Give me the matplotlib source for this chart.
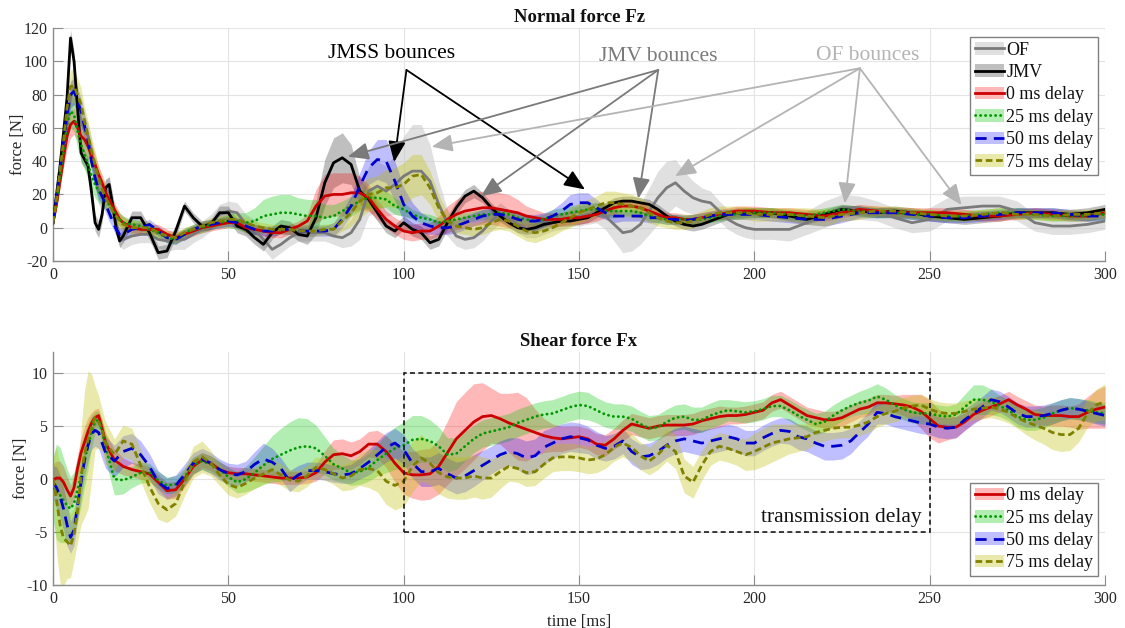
import numpy as np
import matplotlib
matplotlib.use("Agg")
import matplotlib.pyplot as plt
from matplotlib.patches import Patch, Rectangle
from matplotlib.lines import Line2D

plt.rcParams["font.family"] = ["Liberation Serif", "DejaVu Serif"]
plt.rcParams["axes.unicode_minus"] = False

# ---------------------------------------------------------------- time grids
t_normal = np.concatenate([np.arange(0, 20.5, 1.0),
                           np.arange(22.5, 200.1, 2.5),
                           np.arange(205, 300.1, 5.0)])
t_shear = np.concatenate([np.arange(0, 15.5, 1.0),
                          np.arange(17.5, 300.1, 2.5)])

# ------------------------------------------------------- normal force Fz [N]
fz_of = [3, 15, 30, 45, 62, 78, 84, 75, 64, 58, 55, 45, 33, 22, 18, 21, 22, 14, 3, -5, -7,
         -5, -4, -4, -7, -8, -7, -7, -4,
         -1, 3, 8, 10, 9, 2, -1, -7,
         -13, -10, -6, -3, -3, -3, -3, -5,
         -6, -3, 5, 22, 25, 22, 26, 31,
         34, 34, 28, 14, 3, -5, -7, -6,
         -2, 4, 9, 6, 2, -1, -1, 1,
         3, 4, 6, 7, 8, 9, 7, 2,
         -3, -2, 2, 10, 18, 24, 27, 22,
         18, 16, 15, 10, 5, 2, 0, -1,
         -1, -1, 3, 8, 12, 12, 10, 6, 3, 5, 11, 12, 13, 13, 10, 3, 1, 1, 2, 4]
fz_of_sd = [2, 4, 6, 8, 10, 10, 10, 10, 10, 9, 8, 8, 8, 8, 8, 8, 8, 7, 6, 6, 6,
            5, 5, 5, 5, 6, 6, 6, 5,
            5, 5, 6, 6, 6, 6, 6, 6,
            6, 5, 5, 5, 5, 5, 5, 5,
            6, 8, 12, 15, 15, 15, 18, 24,
            28, 28, 22, 14, 8, 6, 6, 6,
            6, 6, 6, 5, 5, 5, 5, 5,
            5, 5, 5, 6, 6, 6, 8, 10,
            12, 12, 12, 14, 16, 16, 14, 12,
            10, 8, 7, 6, 6, 6, 6, 6,
            6, 7, 7, 8, 8, 7, 6, 6, 6, 7, 7, 7, 6, 6, 6, 5, 5, 5, 5, 5]

fz_jmv = [3, 20, 37, 57, 78, 114, 100, 72, 45, 41, 37, 21, 3, -1, 8, 24, 26, 14, 0, -8, -5,
          6, 6, -3, -15, -14, -2, 13, 6,
          1, 2, 9, 9, 1, -1, -6, -10,
          -3, 1, 0, -4, -5, 6, 27, 39,
          42, 38, 22, 17, 9, 1, -2, 3,
          -1, -3, -9, -7, 3, 12, 19, 22,
          18, 12, 7, 3, 0, -1, 0, 2,
          3, 4, 4, 5, 6, 9, 12, 15,
          16, 16, 15, 14, 11, 7, 4, 2,
          1, 2, 4, 6, 8, 9, 9, 9,
          9, 7, 5, 8, 11, 10, 9, 10, 9, 7, 6, 5, 6, 7, 9, 9, 9, 8, 9, 11]
fz_jmv_sd = [1, 2, 3, 4, 5, 5, 6, 6, 6, 5, 5, 5, 5, 5, 5, 5, 5, 5, 4, 4, 4,
             4, 4, 4, 4, 4, 4, 3, 3,
             3, 3, 4, 4, 4, 4, 4, 4,
             4, 4, 4, 4, 5, 10, 14, 15,
             15, 12, 8, 6, 5, 4, 4, 4,
             4, 4, 4, 4, 4, 4, 4, 4,
             3, 3, 3, 3, 3, 3, 3, 3,
             3, 3, 3, 3, 3, 3, 3, 3,
             3, 3, 3, 3, 3, 3, 3, 3,
             3, 3, 3, 3, 3, 3, 3, 3,
             3, 3, 3, 3, 3, 3, 3, 3, 3, 3, 3, 3, 3, 3, 3, 3, 3, 3, 3, 3]

fz_d0 = [3, 14, 28, 42, 55, 62, 64, 60, 55, 53, 49, 43, 38, 32, 27, 21, 17, 13, 9, 5, 3,
         0, -1, -1, -1, -4, -6, -4, -2,
         0, 1, 2, 3, 3, 0, -1, -2,
         -3, -3, -1, 1, 4, 13, 19, 20,
         20, 21, 21, 18, 11, 5, 1, -2,
         -3, -2, -2, 1, 5, 8, 10, 11,
         12, 12, 11, 10, 9, 7, 6, 5,
         5, 5, 6, 6, 7, 8, 10, 12,
         13, 13, 12, 10, 8, 6, 6, 5,
         5, 6, 7, 8, 9, 10, 10, 10,
         9, 9, 8, 7, 9, 11, 10, 9, 9, 9, 9, 8, 7, 7, 8, 9, 8, 7, 7, 9]
fz_d0_sd = [1, 2, 4, 6, 8, 8, 8, 8, 8, 8, 8, 7, 6, 5, 5, 5, 4, 4, 4, 4, 4,
            3, 3, 3, 3, 3, 3, 3, 3,
            3, 3, 3, 3, 3, 3, 3, 3,
            3, 3, 3, 3, 4, 10, 13, 13,
            13, 12, 10, 8, 6, 5, 5, 5,
            5, 5, 5, 6, 8, 9, 10, 10,
            10, 10, 10, 10, 8, 6, 5, 4,
            4, 4, 4, 4, 4, 4, 4, 4,
            3, 3, 3, 3, 3, 3, 3, 3,
            3, 3, 3, 3, 3, 3, 3, 3,
            3, 3, 3, 3, 3, 3, 3, 3, 3, 3, 3, 3, 3, 3, 3, 3, 3, 3, 3, 3]

fz_d25 = [3, 16, 30, 46, 62, 70, 68, 58, 50, 44, 38, 31, 26, 22, 19, 17, 14, 11, 7, 5, 3,
          2, 1, -1, -3, -6, -7, -3, -1,
          0, 2, 3, 4, 4, 3, 4, 7,
          8, 9, 9, 8, 7, 7, 6, 7,
          10, 13, 16, 18, 18, 17, 13, 11,
          8, 6, 5, 3, 4, 5, 6, 7,
          8, 8, 9, 8, 6, 5, 4, 5,
          7, 8, 9, 10, 11, 11, 10, 10,
          10, 10, 9, 7, 6, 5, 5, 5,
          5, 5, 6, 7, 8, 8, 9, 9,
          9, 8, 7, 9, 11, 10, 9, 9, 8, 8, 7, 7, 8, 9, 9, 8, 7, 7, 7, 8]
fz_d25_sd = [1, 3, 5, 7, 9, 10, 10, 10, 10, 9, 9, 8, 8, 7, 6, 6, 5, 5, 4, 4, 4,
             3, 3, 3, 3, 3, 3, 3, 3,
             3, 3, 3, 4, 5, 6, 8, 10,
             11, 11, 11, 10, 10, 10, 8, 7,
             6, 6, 6, 6, 6, 5, 5, 4,
             3, 3, 3, 3, 3, 3, 3, 3,
             3, 3, 3, 3, 3, 3, 3, 3,
             4, 4, 4, 4, 4, 4, 4, 4,
             3, 3, 3, 3, 3, 3, 3, 3,
             3, 3, 3, 3, 3, 3, 3, 3,
             3, 3, 3, 3, 3, 3, 3, 3, 3, 3, 3, 3, 3, 3, 3, 3, 3, 3, 3, 3]

fz_d50 = [3, 18, 35, 52, 68, 80, 82, 76, 70, 61, 52, 40, 30, 23, 19, 14, 9, 4, -1, -4, -4,
          -1, 0, 2, -2, -6, -7, -4, -1,
          1, 2, 3, 4, 3, 1, -1, -2,
          -2, -1, -1, -2, -2, -2, -2, -1,
          5, 13, 25, 36, 41, 40, 28, 14,
          7, 3, 1, 0, 0, 1, 3, 5,
          7, 8, 8, 7, 5, 4, 4, 5,
          7, 10, 14, 15, 15, 12, 9, 7,
          7, 7, 7, 6, 6, 5, 5, 4,
          5, 6, 7, 8, 8, 8, 8, 8,
          7, 6, 5, 5, 7, 9, 9, 9, 8, 7, 6, 6, 7, 8, 9, 9, 9, 8, 7, 7]
fz_d50_sd = [1, 3, 5, 7, 8, 8, 8, 8, 8, 8, 7, 6, 6, 6, 5, 5, 5, 4, 4, 4, 4,
             4, 3, 3, 3, 3, 3, 3, 3,
             3, 3, 3, 3, 3, 3, 3, 3,
             3, 3, 3, 3, 3, 3, 3, 4,
             5, 6, 8, 10, 12, 13, 12, 10,
             8, 6, 5, 4, 4, 4, 4, 4,
             4, 4, 4, 4, 4, 4, 4, 4,
             4, 5, 6, 6, 6, 5, 4, 4,
             3, 3, 3, 3, 3, 3, 3, 3,
             3, 3, 3, 3, 3, 3, 3, 3,
             3, 3, 3, 4, 4, 3, 3, 3, 3, 3, 3, 3, 3, 3, 3, 3, 3, 3, 3, 3]

fz_d75 = [3, 17, 34, 52, 72, 85, 85, 80, 74, 64, 55, 46, 38, 30, 23, 18, 14, 10, 7, 4, 2,
          0, 0, 0, -3, -5, -6, -3, -1,
          1, 3, 4, 5, 5, 3, 1, 0,
          -1, -1, -1, -2, -2, -2, -1, -1,
          4, 9, 16, 20, 21, 24, 24, 26,
          31, 32, 24, 12, 4, 1, 0, -1,
          0, 3, 5, 4, 1, -2, -3, -2,
          0, 3, 6, 9, 11, 13, 15, 15,
          14, 13, 12, 9, 6, 4, 3, 3,
          4, 6, 8, 9, 9, 9, 9, 8,
          8, 8, 7, 6, 8, 9, 10, 10, 9, 8, 7, 7, 8, 9, 8, 8, 7, 8, 8, 9]
fz_d75_sd = [1, 3, 6, 9, 10, 10, 10, 10, 10, 9, 9, 8, 8, 7, 7, 7, 6, 5, 5, 4, 4,
             4, 4, 4, 3, 3, 3, 3, 3,
             3, 3, 3, 3, 3, 3, 3, 3,
             3, 3, 3, 3, 3, 3, 3, 4,
             6, 8, 10, 10, 10, 11, 12, 13,
             13, 12, 10, 8, 5, 4, 4, 4,
             4, 5, 6, 6, 6, 6, 6, 5,
             5, 5, 6, 6, 6, 6, 7, 7,
             7, 7, 6, 6, 5, 4, 4, 4,
             4, 4, 4, 4, 4, 4, 4, 4,
             4, 4, 5, 5, 4, 4, 3, 3, 3, 3, 3, 3, 3, 3, 3, 3, 3, 3, 3, 3]

# -------------------------------------------------------- shear force Fx [N]
fx_d0 = [-0.1, 0.1, 0.1, -0.3, -1.0, -1.6, -0.8, 1.0, 2.5, 3.5, 4.5, 5.3, 5.8, 6.0, 4.8, 3.4,
         1.8, 1.2, 0.9, 0.7, 0.5, -0.3, -1.1, -1.0, 0.0, 1.2,
         1.8, 1.5, 0.9, 0.6, 0.5, 0.5, 0.4, 0.3, 0.2, 0.1,
         0.1, 0.1, 0.2, 0.6, 1.6, 2.3, 2.4, 2.2, 2.6, 3.3,
         3.3, 2.6, 1.5, 0.6, 0.4, 0.4, 0.5, 1.2, 2.5, 3.8,
         4.6, 5.4, 5.9, 6.0, 5.7, 5.3, 5.0, 4.7, 4.4, 4.1,
         3.9, 3.8, 3.9, 4.0, 3.8, 3.3, 3.2, 3.8, 4.6, 5.2,
         5.0, 4.8, 5.0, 5.1, 5.1, 5.1, 5.2, 5.5, 5.7, 5.9,
         6.0, 6.0, 6.1, 6.3, 6.5, 7.2, 7.5, 7.0, 6.5, 6.0,
         5.8, 5.6, 5.6, 5.8, 6.2, 6.6, 6.8, 7.2, 7.2, 7.1,
         7.0, 6.8, 6.4, 5.7, 5.0, 4.9, 4.9, 5.4, 6.1, 6.5,
         6.8, 7.1, 7.5, 7.0, 6.6, 6.1, 6.0, 6.0, 6.0, 5.9,
         5.9, 6.3, 6.6, 6.8]
fx_d0_sd = [1.5, 1.6, 1.6, 1.5, 1.3, 1.0, 1.2, 1.3, 1.4, 1.5, 1.3, 1.0, 0.8, 0.7, 0.8, 1.0,
            1.0, 0.8, 0.7, 0.7, 0.7, 0.7, 0.8, 0.8, 0.8, 0.8,
            0.7, 0.7, 0.7, 0.6, 0.6, 0.6, 0.6, 0.6, 0.6, 0.6,
            0.6, 0.6, 0.6, 0.8, 1.1, 1.4, 1.4, 1.3, 1.2, 1.2,
            1.3, 1.5, 1.8, 2.0, 2.2, 2.4, 2.4, 2.6, 3.0, 3.5,
            3.6, 3.6, 3.2, 2.6, 2.4, 2.8, 3.2, 3.0, 2.2, 1.6,
            1.3, 1.2, 1.1, 1.0, 1.0, 1.0, 1.0, 1.0, 1.0, 1.0,
            1.0, 1.0, 1.0, 1.0, 1.0, 1.0, 1.0, 1.0, 1.0, 1.0,
            0.8, 0.8, 0.8, 0.8, 0.8, 0.8, 0.8, 0.8, 0.8, 0.8,
            0.8, 0.8, 0.8, 0.8, 0.8, 0.8, 0.8, 0.8, 0.8, 0.8,
            1.0, 1.2, 1.6, 1.8, 1.6, 1.2, 1.0, 0.8, 0.8, 0.8,
            0.8, 0.8, 0.8, 0.8, 0.8, 0.9, 0.9, 1.0, 1.0, 1.0,
            1.2, 1.5, 1.8, 2.0]

fx_d25 = [-0.9, -1.2, -1.5, -2.0, -2.5, -2.8, -2.3, -1.0, 0.3, 1.8, 3.1, 4.5, 5.4, 5.6, 4.5, 3.0,
          0.0, -0.1, 0.2, 0.6, 0.6, -0.1, -0.6, -0.5, 0.2, 1.3,
          1.7, 1.4, 0.9, 0.2, -0.3, 0.0, 0.6, 1.3, 1.9, 2.3,
          2.7, 3.0, 3.1, 2.9, 2.2, 1.4, 1.0, 0.6, 0.7, 1.1,
          1.8, 2.4, 2.9, 3.2, 3.7, 3.8, 3.6, 3.1, 2.3, 2.4,
          3.1, 3.8, 4.3, 4.5, 4.7, 4.9, 5.3, 5.6, 5.9, 6.1,
          6.2, 6.5, 6.8, 7.0, 6.9, 6.5, 6.1, 5.9, 5.9, 5.7,
          5.2, 4.8, 4.9, 5.4, 5.8, 5.9, 5.6, 5.6, 6.0, 6.3,
          6.5, 6.4, 6.3, 6.4, 6.6, 6.9, 6.9, 6.5, 6.0, 5.6,
          5.2, 5.4, 6.0, 6.5, 6.9, 7.2, 7.4, 7.8, 7.5, 7.0,
          6.6, 6.3, 6.2, 6.2, 6.0, 5.9, 6.1, 6.8, 7.5, 7.5,
          7.3, 6.9, 6.5, 5.9, 5.6, 5.6, 5.8, 6.2, 6.5, 6.7,
          6.6, 6.5, 6.3, 6.2]
fx_d25_sd = [3.0, 4.5, 4.5, 4.0, 3.5, 3.0, 3.0, 3.0, 2.8, 2.5, 2.2, 1.5, 1.0, 0.8, 1.0, 1.3,
             1.5, 1.3, 1.0, 1.0, 0.9, 0.8, 0.8, 0.8, 0.8, 0.8,
             0.8, 0.8, 0.8, 0.9, 1.0, 1.2, 1.5, 1.8, 2.2, 2.5,
             2.7, 2.8, 2.6, 2.2, 1.8, 1.5, 1.3, 1.2, 1.2, 1.3,
             1.5, 1.8, 2.0, 2.2, 2.3, 2.2, 2.0, 1.8, 1.6, 1.5,
             1.4, 1.3, 1.3, 1.3, 1.3, 1.3, 1.3, 1.3, 1.3, 1.3,
             1.3, 1.3, 1.3, 1.3, 1.3, 1.2, 1.2, 1.2, 1.2, 1.2,
             1.2, 1.2, 1.2, 1.2, 1.2, 1.2, 1.2, 1.2, 1.2, 1.2,
             1.0, 1.0, 1.0, 1.0, 1.0, 1.0, 1.0, 1.0, 1.0, 1.0,
             1.0, 1.0, 1.0, 1.0, 1.0, 1.1, 1.2, 1.2, 1.1, 1.0,
             1.0, 1.0, 1.0, 1.0, 1.0, 1.0, 1.0, 1.2, 1.4, 1.4,
             1.2, 1.0, 1.0, 1.0, 1.0, 1.0, 1.0, 1.0, 1.0, 1.0,
             1.0, 1.0, 1.0, 1.0]

fx_d50 = [-0.3, -0.8, -1.6, -2.8, -4.3, -5.5, -4.8, -2.5, -0.3, 1.8, 3.2, 4.3, 4.6, 4.4, 3.4, 2.5,
          1.7, 2.6, 2.9, 2.3, 1.2, -0.3, -0.9, -0.6, 0.4, 1.5,
          1.9, 1.5, 0.9, 0.5, 0.4, 0.7, 1.4, 1.9, 1.6, 1.0,
          -0.2, 0.4, 0.8, 0.8, 0.7, 0.5, 0.4, 0.5, 1.0, 1.6,
          2.3, 3.0, 3.4, 2.8, 1.5, 0.7, 0.7, 1.0, 0.5, 0.1,
          0.3, 0.8, 1.3, 1.8, 2.3, 2.6, 2.4, 2.0, 2.2, 3.0,
          3.4, 3.8, 4.0, 3.9, 3.7, 3.2, 2.9, 3.1, 3.6, 2.6,
          2.1, 2.2, 2.6, 3.2, 3.6, 3.8, 3.6, 3.4, 3.6, 3.8,
          4.0, 3.8, 3.4, 3.4, 3.9, 4.3, 4.6, 4.5, 4.0, 3.8,
          3.4, 3.1, 3.1, 3.2, 3.6, 4.4, 5.2, 6.3, 6.2, 5.9,
          5.7, 5.5, 5.3, 5.2, 4.9, 4.8, 4.9, 5.6, 6.2, 6.8,
          7.5, 7.3, 6.8, 6.2, 5.9, 5.9, 6.0, 6.2, 6.5, 6.7,
          6.6, 6.4, 6.2, 6.0]
fx_d50_sd = [1.5, 2.0, 2.0, 2.0, 2.0, 1.5, 1.5, 1.5, 1.5, 1.5, 1.5, 1.5, 1.5, 1.5, 1.5, 1.5,
             1.5, 1.5, 1.4, 1.3, 1.2, 1.1, 1.0, 1.0, 1.0, 1.0,
             1.0, 1.0, 1.0, 1.0, 1.0, 1.0, 1.2, 1.5, 1.3, 1.0,
             1.0, 0.9, 0.8, 0.8, 0.8, 0.8, 0.8, 0.9, 1.0, 1.2,
             1.3, 1.4, 1.4, 1.4, 1.4, 1.4, 1.4, 1.5, 1.5, 1.5,
             1.5, 1.5, 1.4, 1.3, 1.3, 1.3, 1.5, 1.6, 1.6, 1.6,
             1.5, 1.4, 1.4, 1.4, 1.3, 1.3, 1.2, 1.2, 1.2, 1.2,
             1.2, 1.2, 1.2, 1.2, 1.2, 1.2, 1.2, 1.2, 1.2, 1.2,
             1.2, 1.2, 1.2, 1.2, 1.2, 1.2, 1.2, 1.2, 1.2, 1.2,
             1.2, 1.3, 1.3, 1.3, 1.2, 1.1, 1.1, 1.1, 1.0, 1.0,
             1.0, 1.0, 1.0, 1.0, 1.0, 1.0, 1.0, 1.0, 1.0, 1.0,
             1.0, 1.0, 1.0, 1.0, 1.0, 1.0, 1.0, 1.0, 1.0, 1.0,
             1.0, 1.0, 1.0, 1.0]

fx_d75 = [0.0, -1.9, -4.3, -5.6, -5.9, -6.3, -5.2, -3.0, 0.2, 2.4, 3.7, 4.9, 5.8, 5.4, 4.6, 3.4,
          2.3, 3.6, 3.3, 1.3, -0.7, -2.3, -2.9, -2.3, -0.3, 1.6,
          2.1, 1.5, 0.4, -0.5, -0.8, -0.4, 0.1, 0.5, 0.9, 0.4,
          -0.1, -0.2, 0.3, 1.1, 0.9, 0.5, 0.1, 0.3, 0.9, 1.0,
          0.8, -0.2, -0.6, -0.2, 1.2, 2.0, 1.5, 0.6, 0.2, 0.1,
          0.1, 0.3, 0.1, 0.1, 0.7, 1.2, 1.0, 0.6, 0.7, 1.4,
          2.0, 2.1, 2.1, 2.0, 1.8, 1.9, 2.3, 3.0, 3.4, 3.0,
          2.2, 1.7, 2.3, 3.2, 2.6, 0.3, -0.3, 1.3, 2.6, 3.1,
          2.9, 2.6, 2.3, 2.6, 3.0, 3.4, 3.6, 3.8, 3.9, 4.0,
          4.4, 4.6, 4.8, 4.9, 4.9, 5.1, 5.4, 5.9, 6.2, 6.4,
          6.7, 6.9, 7.0, 6.6, 6.3, 6.2, 6.2, 6.4, 6.6, 6.7,
          6.8, 6.6, 6.3, 5.8, 5.4, 5.1, 4.8, 4.4, 4.2, 4.2,
          4.8, 6.2, 7.0, 7.3]
fx_d75_sd = [2.0, 5.0, 5.5, 4.5, 3.5, 3.0, 2.5, 3.0, 4.5, 6.0, 6.5, 5.0, 3.0, 2.5, 2.0, 2.0,
             1.5, 1.5, 1.5, 1.5, 1.5, 1.5, 1.2, 1.2, 1.3, 1.5,
             1.5, 1.2, 1.0, 1.0, 1.0, 1.0, 1.0, 1.0, 1.0, 1.0,
             1.0, 1.0, 1.0, 1.0, 1.0, 1.0, 1.2, 1.3, 1.5, 1.8,
             2.0, 2.2, 2.3, 2.4, 2.4, 2.2, 2.0, 2.0, 2.0, 2.0,
             2.0, 2.0, 2.0, 1.8, 1.6, 1.4, 1.3, 1.3, 1.3, 1.3,
             1.3, 1.3, 1.3, 1.3, 1.3, 1.3, 1.3, 1.3, 1.3, 1.3,
             1.3, 1.3, 1.4, 1.5, 1.6, 1.6, 1.5, 1.4, 1.3, 1.3,
             1.3, 1.3, 1.5, 1.7, 1.8, 1.8, 1.6, 1.4, 1.3, 1.2,
             1.1, 1.0, 1.0, 1.0, 1.0, 1.0, 1.0, 1.0, 1.0, 1.0,
             1.0, 1.0, 1.0, 1.0, 1.0, 1.0, 1.0, 1.0, 1.0, 1.0,
             1.0, 1.0, 1.0, 1.0, 1.2, 1.4, 1.5, 1.6, 1.6, 1.5,
             1.3, 1.3, 1.5, 1.7]

# ------------------------------------------------------------------- styles
RED = dict(line="#cc0000", band=(1.0, 0.0, 0.0), alpha=0.28, ls="-")
GREEN = dict(line="#009600", band=(0.0, 0.78, 0.0), alpha=0.30, ls=(0, (0.1, 1.7)))
BLUE = dict(line="#0000cc", band=(0.0, 0.0, 1.0), alpha=0.25, ls=(0, (4.0, 2.6)))
OLIVE = dict(line="#808000", band=(0.75, 0.75, 0.0), alpha=0.33, ls=(0, (2.4, 1.3)))
OFS = dict(line="#7a7a7a", band=(0.78, 0.78, 0.78), alpha=0.55, ls="-")
JMVS = dict(line="#000000", band=(0.45, 0.45, 0.45), alpha=0.45, ls="-")

LW = 2.0
GRAY_AX = "#8c8c8c"
TXT = "#262626"

fig = plt.figure(figsize=(11.25, 6.28), dpi=100)
ax_top = fig.add_axes([53 / 1125, 1 - 261 / 628, 1052 / 1125, 233 / 628])
ax_bot = fig.add_axes([53 / 1125, 1 - 585 / 628, 1052 / 1125, 233 / 628])


def style_axes(ax):
    for side in ("top", "right"):
        ax.spines[side].set_visible(False)
    for side in ("left", "bottom"):
        ax.spines[side].set_color(GRAY_AX)
        ax.spines[side].set_linewidth(1.0)
    ax.tick_params(direction="in", length=7, width=0.8, color=GRAY_AX,
                   labelcolor=TXT, labelsize=11.5, pad=4)
    ax.grid(True, color="#e4e4e4", lw=0.8)
    ax.set_axisbelow(True)
    ax.set_xlim(0, 300)
    ax.set_xticks(np.arange(0, 301, 50))


def draw(ax, t, series):
    for mean, sd, st in series:
        m = np.asarray(mean, float)
        s = np.asarray(sd, float)
        ax.fill_between(t, m - s, m + s, color=st["band"], alpha=st["alpha"],
                        lw=0, zorder=2)
    for mean, sd, st in series:
        ax.plot(t, mean, color=st["line"], ls=st["ls"], lw=LW,
                dash_capstyle="round" if st is GREEN else "butt", zorder=3)


def legend_handles(styles):
    hs = []
    for st in styles:
        patch = Patch(facecolor=st["band"], alpha=st["alpha"], edgecolor="none")
        line = Line2D([], [], color=st["line"], ls=st["ls"], lw=LW,
                      dash_capstyle="round" if st is GREEN else "butt")
        hs.append((patch, line))
    return hs


def add_legend(ax, styles, labels, anchor, loc):
    leg = ax.legend(legend_handles(styles), labels, loc=loc, bbox_to_anchor=anchor,
                    borderaxespad=0, fontsize=13, handlelength=1.6,
                    handletextpad=0.15, labelspacing=0.3, borderpad=0.25,
                    fancybox=False, framealpha=1, edgecolor="#808080")
    leg.get_frame().set_linewidth(1.0)
    for txt in leg.get_texts():
        txt.set_color("#111111")
    leg.set_zorder(10)


# ---------------------------------------------------------- normal force
style_axes(ax_top)
ax_top.set_ylim(-20, 120)
ax_top.set_yticks(np.arange(-20, 121, 20))
draw(ax_top, t_normal, [(fz_of, fz_of_sd, OFS), (fz_jmv, fz_jmv_sd, JMVS),
                        (fz_d0, fz_d0_sd, RED), (fz_d25, fz_d25_sd, GREEN),
                        (fz_d50, fz_d50_sd, BLUE), (fz_d75, fz_d75_sd, OLIVE)])
ax_top.set_title("Normal force Fz", fontsize=13.5, fontweight="bold", pad=4, color="#111111")
ax_top.set_ylabel("force [N]", fontsize=12, color=TXT, labelpad=-2)
add_legend(ax_top, [OFS, JMVS, RED, GREEN, BLUE, OLIVE],
           ["OF", "JMV", "0 ms delay", "25 ms delay", "50 ms delay", "75 ms delay"],
           (0.9933, 0.9614), "upper right")

callouts = [
    ("JMSS bounces", "#000000", (96.5, 104.5), (100.8, 94.8),
     [(97.3, 39.5), (151.7, 23.0)]),
    ("JMV bounces", "#7a7a7a", (172.6, 102.8), (172.6, 94.8),
     [(84.1, 42.7), (122.0, 18.8), (166.9, 17.5)]),
    ("OF bounces", "#b4b4b4", (232.2, 103.3), (230.1, 95.8),
     [(108.0, 48.7), (177.4, 31.0), (225.8, 14.6), (259.1, 13.6)]),
]
for label, col, text_xy, tail, heads in callouts:
    ax_top.text(*text_xy, label, color=col, fontsize=15.5, ha="center", va="center", zorder=6)
    for head in heads:
        ax_top.annotate("", xy=head, xytext=tail,
                        arrowprops=dict(arrowstyle="-|>,head_length=0.9,head_width=0.38",
                                        mutation_scale=14, color=col, lw=1.3,
                                        shrinkA=0, shrinkB=0), zorder=6)

# ----------------------------------------------------------- shear force
style_axes(ax_bot)
ax_bot.set_ylim(-10, 12)
ax_bot.set_yticks(np.arange(-10, 11, 5))
draw(ax_bot, t_shear, [(fx_d0, fx_d0_sd, RED), (fx_d25, fx_d25_sd, GREEN),
                       (fx_d50, fx_d50_sd, BLUE), (fx_d75, fx_d75_sd, OLIVE)])
ax_bot.set_title("Shear force Fx", fontsize=13.5, fontweight="bold", pad=4, color="#111111")
ax_bot.set_ylabel("force [N]", fontsize=12, color=TXT, labelpad=-2)
ax_bot.set_xlabel("time [ms]", fontsize=12, color=TXT, labelpad=5)
ax_bot.add_patch(Rectangle((100, -5), 150, 15, fill=False, ec="#1a1a1a",
                           lw=1.2, ls=(0, (3, 2)), zorder=5))
ax_bot.text(247.8, -3.6, "transmission delay", fontsize=15.5, ha="right",
            va="center", color="#111111", zorder=6)
add_legend(ax_bot, [RED, GREEN, BLUE, OLIVE],
           ["0 ms delay", "25 ms delay", "50 ms delay", "75 ms delay"],
           (0.9933, 0.0386), "lower right")

fig.savefig("out.png", dpi=100)
